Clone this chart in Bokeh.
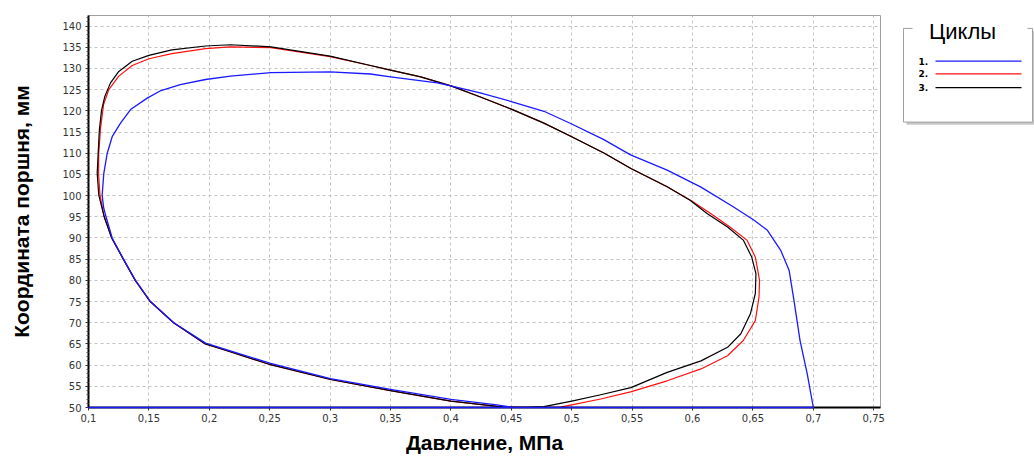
from bokeh.plotting import figure
from bokeh.layouts import row
from bokeh.models import Range1d, FixedTicker, ColumnDataSource
from bokeh.embed import file_html
from bokeh.resources import INLINE
from bokeh.core.properties import value

# ---------------- data ----------------
x_ticks = [0.1, 0.15, 0.2, 0.25, 0.3, 0.35, 0.4, 0.45, 0.5, 0.55, 0.6, 0.65, 0.7, 0.75]
x_tick_labels = ["0,1", "0,15", "0,2", "0,25", "0,3", "0,35", "0,4", "0,45",
                 "0,5", "0,55", "0,6", "0,65", "0,7", "0,75"]
y_ticks = [50, 55, 60, 65, 70, 75, 80, 85, 90, 95, 100, 105, 110, 115, 120, 125, 130, 135, 140]

series_names = ["1.", "2.", "3."]
series_colors = ["#1a1aff", "#ff1010", "#000000"]

# cycle 1 (blue)
p1 = [0.10, 0.70, 0.695, 0.689, 0.684, 0.680, 0.673, 0.662, 0.651, 0.634, 0.607, 0.579,
      0.5487, 0.5266, 0.50, 0.477, 0.45, 0.425, 0.40, 0.3887, 0.35, 0.3334, 0.30, 0.251,
      0.2175, 0.1969, 0.176, 0.160, 0.1486, 0.1348, 0.1265, 0.1196, 0.1155, 0.1127, 0.1113,
      0.1125, 0.1145, 0.1196, 0.129, 0.1389, 0.1513, 0.1706, 0.1969, 0.2134, 0.2507,
      0.3003, 0.35, 0.40, 0.438, 0.45]
y1 = [50.0, 50.0, 57.9, 65.8, 75.2, 82.3, 87.1, 91.8, 94.2, 97.3, 102.0, 106.0,
      109.6, 113.2, 116.9, 119.9, 122.2, 124.2, 125.9, 126.6, 128.0, 128.7, 129.2, 129.0,
      128.2, 127.4, 126.2, 124.8, 123.0, 120.3, 117.1, 113.9, 110.0, 105.3, 100.1,
      97.2, 95.0, 90.0, 85.0, 80.0, 75.0, 70.0, 65.2, 63.7, 60.4,
      56.8, 54.3, 51.9, 50.6, 50.1]

# cycle 2 (red)
p2 = [0.4438, 0.47, 0.4907, 0.50, 0.524, 0.5487, 0.579, 0.607, 0.629, 0.642, 0.652, 0.655,
      0.6555, 0.652, 0.645, 0.631, 0.615, 0.600, 0.579, 0.549, 0.527, 0.50, 0.477, 0.45,
      0.425, 0.40, 0.375, 0.35, 0.3334, 0.30, 0.251, 0.2175, 0.1969, 0.169, 0.150, 0.1362,
      0.1251, 0.1168, 0.1125, 0.110, 0.1085, 0.1083, 0.1095, 0.113, 0.1192, 0.1288,
      0.1387, 0.1511, 0.1704, 0.1967, 0.2134, 0.2507, 0.3003, 0.35, 0.40, 0.4438]
y2 = [50.1, 50.0, 50.1, 50.6, 52.0, 53.7, 56.3, 59.1, 62.2, 65.8, 70.5, 76.0,
      80.0, 85.5, 89.5, 92.6, 95.8, 98.6, 102.1, 106.4, 110.0, 113.9, 117.1, 120.4,
      123.2, 125.9, 128.0, 129.6, 130.7, 132.8, 134.9, 135.1, 134.7, 133.5, 132.3, 130.7,
      128.2, 125.0, 121.5, 116.0, 110.0, 105.3, 100.1, 95.0, 90.0, 85.0,
      80.0, 75.0, 70.0, 65.0, 63.5, 60.1, 56.6, 54.0, 51.5, 50.1]

# cycle 3 (black)
p3 = [0.46, 0.477, 0.50, 0.524, 0.549, 0.579, 0.607, 0.629, 0.640, 0.648, 0.652, 0.6525,
      0.649, 0.642, 0.629, 0.612, 0.598, 0.579, 0.549, 0.527, 0.50, 0.477, 0.45, 0.425,
      0.40, 0.375, 0.35, 0.3334, 0.30, 0.251, 0.2175, 0.1969, 0.169, 0.150, 0.1362, 0.1251,
      0.1182, 0.1135, 0.1108, 0.109, 0.108, 0.1072, 0.1085, 0.113, 0.1192, 0.1288, 0.1387,
      0.1511, 0.1704, 0.1967, 0.2134, 0.2507, 0.3003, 0.35, 0.40, 0.4438, 0.46]
y3 = [50.05, 50.2, 51.5, 53.0, 54.7, 58.3, 61.0, 64.2, 67.4, 72.2, 76.9, 81.6,
      85.5, 89.5, 92.6, 95.8, 98.9, 102.1, 106.4, 110.0, 113.9, 117.1, 120.4, 123.2,
      125.9, 128.0, 129.6, 130.7, 132.9, 135.1, 135.6, 135.3, 134.4, 133.1, 131.7, 129.3,
      126.6, 123.4, 120.1, 115.5, 110.0, 105.3, 100.1, 95.0, 90.0, 85.0, 80.0,
      75.0, 70.0, 65.0, 63.5, 60.1, 56.6, 54.0, 51.5, 50.1, 50.05]

x_label = "Давление, МПа"
y_label = "Координата поршня, мм"
legend_title = "Циклы"

# ---------------- main plot ----------------
p = figure(width=888, height=456, output_backend="svg", toolbar_location=None,
           x_range=Range1d(0.1, 0.7556), y_range=Range1d(50, 142.5),
           min_border_left=88, min_border_right=8, min_border_top=15, min_border_bottom=49)
p.background_fill_color = "white"
p.border_fill_color = "white"
p.outline_line_color = "#a0a0a0"

p.xaxis.ticker = FixedTicker(ticks=x_ticks)
p.xaxis.major_label_overrides = {t: l for t, l in zip(x_ticks, x_tick_labels)}
y_minor = [v for v in range(50, 143) if v not in y_ticks]
p.yaxis.ticker = FixedTicker(ticks=y_ticks, minor_ticks=y_minor)

for ax in (p.xaxis, p.yaxis):
    ax.axis_line_color = "black"
    ax.axis_line_width = 2
    ax.major_tick_in = 0
    ax.major_tick_out = 3
    ax.major_tick_line_color = "#333333"
    ax.minor_tick_in = 0
    ax.minor_tick_line_color = "#555555"
    ax.major_label_text_font = "DejaVu Sans"
    ax.major_label_text_font_size = "10px"
    ax.major_label_text_color = "#333333"
    ax.axis_label_text_font = "Liberation Sans"
    ax.axis_label_text_font_style = "bold"
    ax.axis_label_text_font_size = "21px"
    ax.axis_label_text_color = "black"
p.xaxis.minor_tick_out = 0
p.yaxis.minor_tick_out = 2
p.xaxis.major_label_standoff = 3
p.yaxis.major_label_standoff = 4
p.xaxis.axis_label = x_label
p.yaxis.axis_label = y_label
p.xaxis.axis_label_standoff = 6
p.yaxis.axis_label_standoff = 26

p.grid.grid_line_color = "#c4c4c4"
p.grid.grid_line_dash = "3 3"
p.grid.grid_line_width = 1

p.line(p2, y2, line_color=series_colors[1], line_width=1.2, line_join="round")
p.line(p3, y3, line_color=series_colors[2], line_width=1.2, line_join="round")
p.line(p1, y1, line_color=series_colors[0], line_width=1.3, line_join="round", level="overlay")

# ---------------- legend panel ----------------
lg = figure(width=146, height=456, output_backend="svg", toolbar_location=None,
            x_range=Range1d(0, 146), y_range=Range1d(456, 0), min_border=0)
lg.axis.visible = False
lg.grid.visible = False
lg.outline_line_color = None
lg.background_fill_color = "white"
lg.border_fill_color = "white"

lg.quad(left=[18], right=[146], top=[18], bottom=[127], fill_color="#c8c8c8", line_color=None)
lg.quad(left=[15], right=[144], top=[15], bottom=[124], fill_color="white", line_color="#a0a0a0")
lg.quad(left=[24], right=[139], top=[12], bottom=[18], fill_color="white", line_color=None)
lg.text(x=[74], y=[19], text=[legend_title], text_font=value("Liberation Sans"),
        text_font_size="22px", text_align="center", text_baseline="middle", text_color="black")

leg_src = ColumnDataSource(dict(name=series_names, color=series_colors,
                                ty=[53, 68, 84]))
lg.text(x=30, y="ty", text="name", source=leg_src, text_font=value("DejaVu Sans"),
        text_font_size="9px", text_font_style="bold", text_align="left",
        text_baseline="middle", text_color="black")
lg.segment(x0=47, x1=133, y0="ty", y1="ty", source=leg_src, line_color="color", line_width=1.2)

layout = row(p, lg, spacing=0)
open("out.html", "w").write(file_html(layout, INLINE))
